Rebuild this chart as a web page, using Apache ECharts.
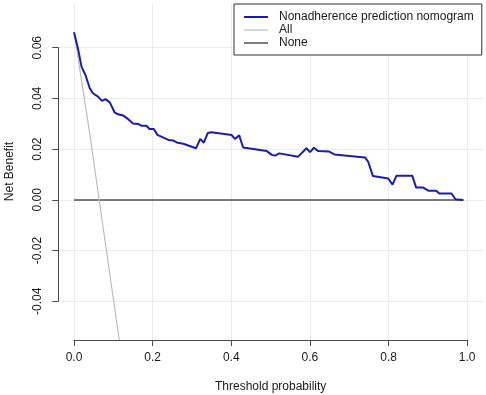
<!DOCTYPE html>
<html>
<head>
<meta charset="utf-8">
<script src="https://cdn.jsdelivr.net/npm/echarts@6/dist/echarts.min.js"></script>
<style>html,body{margin:0;padding:0;background:#fff;}#c{width:486px;height:395px;}</style>
</head>
<body>
<div id="c"></div>
<script>
// ---- data ----
var thresholds = [0.000,0.010,0.019,0.029,0.040,0.048,0.061,0.071,0.080,0.091,0.103,0.112,0.125,0.137,0.150,0.163,0.171,0.184,0.192,0.203,0.212,0.240,0.252,0.261,0.278,0.310,0.321,0.330,0.340,0.349,0.401,0.409,0.420,0.430,0.490,0.503,0.511,0.522,0.570,0.591,0.600,0.610,0.621,0.649,0.662,0.740,0.748,0.760,0.799,0.810,0.820,0.860,0.870,0.888,0.901,0.921,0.929,0.960,0.970,0.990];
var nomogramNB = [0.0662,0.0598,0.0526,0.0493,0.0441,0.0421,0.0408,0.0391,0.0398,0.0385,0.0346,0.0338,0.0333,0.0320,0.0302,0.0300,0.0293,0.0293,0.0280,0.0280,0.0257,0.0237,0.0235,0.0227,0.0222,0.0204,0.0241,0.0226,0.0264,0.0267,0.0256,0.0241,0.0255,0.0207,0.0193,0.0178,0.0175,0.0184,0.0171,0.0204,0.0189,0.0206,0.0193,0.0191,0.0180,0.0168,0.0151,0.0095,0.0085,0.0061,0.0096,0.0096,0.0049,0.0049,0.0037,0.0037,0.0026,0.0026,0.0003,0.0000];
var allThresholds = [0.000, 0.040, 0.064, 0.115];
var allNB = [0.0662, 0.0262, 0.0000, -0.0552];
var noneThresholds = [0.000, 0.990];
var noneNB = [0, 0];
var xTickLabels = ['0.0','0.2','0.4','0.6','0.8','1.0'];
var yTickLabels = ['-0.04','-0.02','0.00','0.02','0.04','0.06'];
var seriesNames = ['Nonadherence prediction nomogram','All','None'];

function pairs(xs, ys){ return xs.map(function(x,i){ return [x, ys[i]]; }); }

var FONT = 'Liberation Sans, Arial, sans-serif';
var AX = '#4a4a4a';
var GRIDC = '#ebebeb';
var TXT = '#1a1a1a';
var C_NOM = '#1c1cb4', C_ALL = '#bcbcbc', C_NONE = '#505050';

var chart = echarts.init(document.getElementById('c'), null, {renderer:'canvas'});
chart.setOption({
  animation: false,
  backgroundColor: '#fff',
  textStyle: {fontFamily: FONT},
  grid: [
    {left: 58.3, right: 3, top: 3, bottom: 55, outerBoundsMode: 'none', containLabel: false},
    {left: 74, right: 18.8, top: 3, bottom: 55, outerBoundsMode: 'none', containLabel: false},
    {left: 58.3, right: 3, top: 47.7, bottom: 93.7, outerBoundsMode: 'none', containLabel: false}
  ],
  legend: {
    orient: 'vertical', left: 234, top: 4,
    padding: [7, 8, 6, 10],
    itemWidth: 24, itemHeight: 12, itemGap: 1,
    backgroundColor: '#fff', borderColor: '#333', borderWidth: 1,
    itemStyle: {borderWidth: 0},
    textStyle: {fontSize: 12, color: TXT, fontFamily: FONT, padding: [0,0,0,6]},
    data: [
      {name: seriesNames[0], icon: 'path://M0,0H24V2H0Z'},
      {name: seriesNames[1], icon: 'path://M0,0H24V1.2H0Z'},
      {name: seriesNames[2], icon: 'path://M0,0H24V1.5H0Z'}
    ]
  },
  xAxis: [
    {gridIndex: 0, type: 'value', min: -0.04, max: 1.04,
     axisLine: {show: false}, axisTick: {show: false}, axisLabel: {show: false}, splitLine: {show: false},
     name: 'Threshold probability', nameLocation: 'middle', nameGap: 41,
     nameTextStyle: {fontSize: 12, color: TXT, fontFamily: FONT}},
    {gridIndex: 1, type: 'value', min: 0, max: 1, interval: 0.2,
     axisLine: {show: true, onZero: false, lineStyle: {color: AX, width: 1}},
     axisTick: {show: true, length: 6, lineStyle: {color: AX, width: 1}},
     axisLabel: {margin: 12, fontSize: 12, color: TXT, fontFamily: FONT,
       formatter: function(v){ return xTickLabels[Math.round(v/0.2)]; }},
     splitLine: {show: true, lineStyle: {color: GRIDC, width: 1}}},
    {gridIndex: 2, type: 'value', show: false, min: 0, max: 1}
  ],
  yAxis: [
    {gridIndex: 0, type: 'value', min: -0.0552, max: 0.0777,
     axisLine: {show: false}, axisTick: {show: false}, axisLabel: {show: false}, splitLine: {show: false},
     name: 'Net Benefit', nameLocation: 'middle', nameGap: 43,
     nameTextStyle: {fontSize: 12, color: TXT, fontFamily: FONT}},
    {gridIndex: 1, type: 'value', show: false, min: 0, max: 1},
    {gridIndex: 2, type: 'value', min: -0.04, max: 0.06, interval: 0.02,
     axisLine: {show: true, onZero: false, lineStyle: {color: AX, width: 1}},
     axisTick: {show: true, length: 6, lineStyle: {color: AX, width: 1}},
     axisLabel: {rotate: 90, margin: 15, fontSize: 12, color: TXT, fontFamily: FONT,
       formatter: function(v){ return yTickLabels[Math.round((v + 0.04)/0.02)]; }},
     splitLine: {show: true, lineStyle: {color: GRIDC, width: 1}}}
  ],
  series: [
    {name: seriesNames[2], type: 'line', xAxisIndex: 0, yAxisIndex: 0, data: pairs(noneThresholds, noneNB),
     symbol: 'none', lineStyle: {color: C_NONE, width: 1.5}, itemStyle: {color: C_NONE}, z: 2},
    {name: seriesNames[1], type: 'line', xAxisIndex: 0, yAxisIndex: 0, data: pairs(allThresholds, allNB),
     symbol: 'none', lineStyle: {color: C_ALL, width: 1.2}, itemStyle: {color: C_ALL}, z: 3},
    {name: seriesNames[0], type: 'line', xAxisIndex: 0, yAxisIndex: 0, data: pairs(thresholds, nomogramNB),
     symbol: 'none', lineStyle: {color: C_NOM, width: 2}, itemStyle: {color: C_NOM}, z: 4}
  ]
});
</script>
</body>
</html>
